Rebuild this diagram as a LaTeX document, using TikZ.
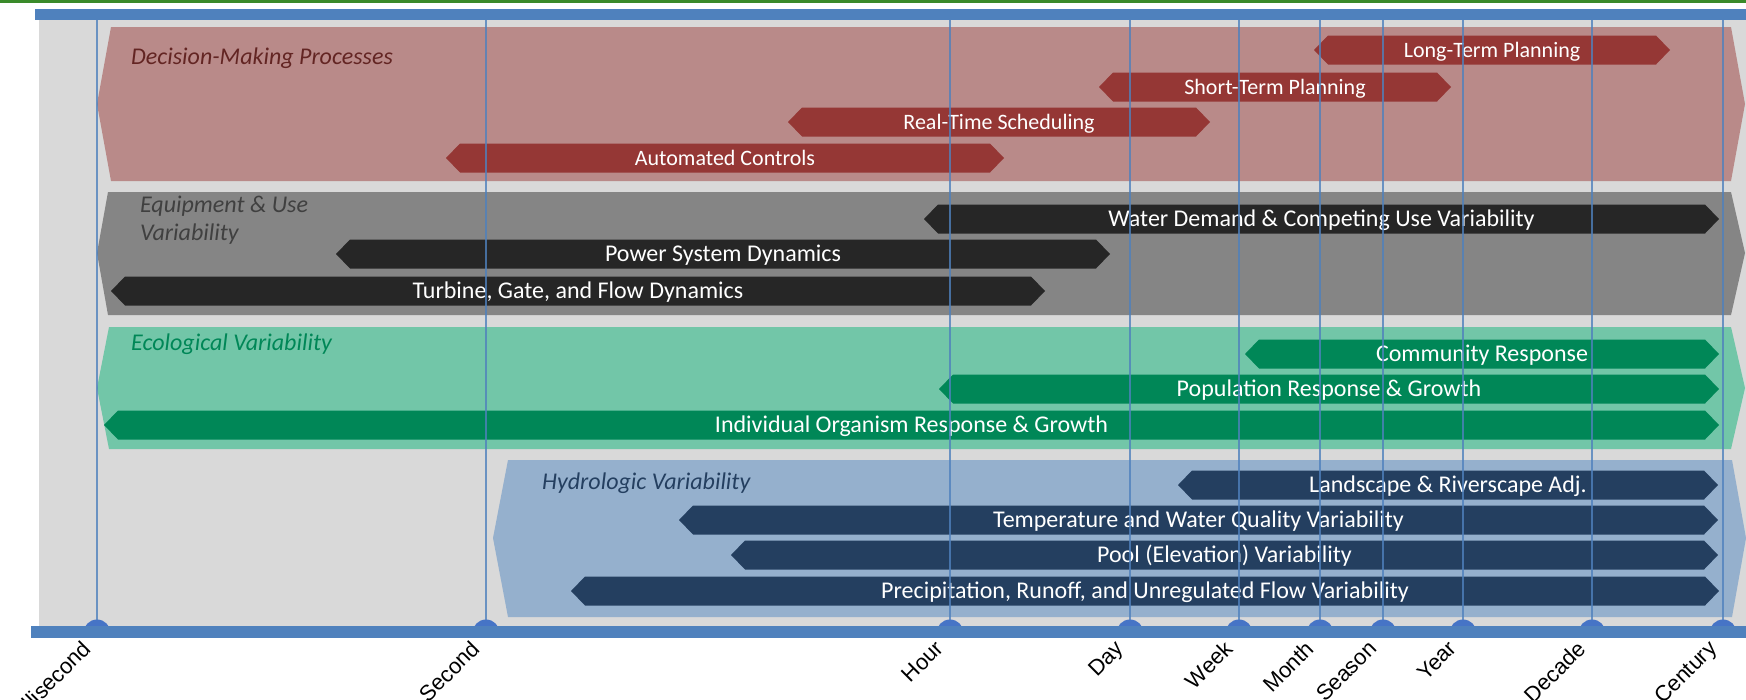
\documentclass[tikz,border=0pt]{standalone}
\usepackage{fontspec}
\setmainfont{Carlito}
\newfontfamily\axisfont{Liberation Sans}

\definecolor{rulegreen}{HTML}{3A8A2A}
\definecolor{panelgray}{HTML}{D9D9D9}
\definecolor{axisblue}{HTML}{4F81BD}
\definecolor{dotblue}{HTML}{4674C6}
\definecolor{decband}{HTML}{B98A89}
\definecolor{decbar}{HTML}{953735}
\definecolor{declabel}{HTML}{632523}
\definecolor{eqband}{HTML}{858585}
\definecolor{eqbar}{HTML}{262626}
\definecolor{eqlabel}{HTML}{404040}
\definecolor{ecoband}{HTML}{72C6A8}
\definecolor{ecobar}{HTML}{008757}
\definecolor{hydband}{HTML}{95B0CD}
\definecolor{hydbar}{HTML}{243F60}

% a double-pointed bar spanning #2..#3 at height #4, filled with #5,
% labelled #7 at font size #6
\newcommand\spanarrow[7]{%
  \fill[#5] (#2,#4) -- (#2+14,#4-14.5) -- (#3-14,#4-14.5) -- (#3,#4)
     -- (#3-14,#4+14.5) -- (#2+14,#4+14.5) -- cycle;
  \node[bartext, font=\fontsize{#6}{#6}\selectfont] (#1) at ({(#2+#3)/2},#4+7.5) {#7};
}

\begin{document}
\begin{tikzpicture}[x=1pt,y=-1pt,
  bartext/.style={text=white, inner sep=0pt, anchor=base},
  grouplabel/.style={font=\fontsize{24}{29}\selectfont\itshape, inner sep=0pt, anchor=base west},
  axislabel/.style={font=\axisfont\fontsize{22}{25}\selectfont, rotate=45, anchor=north east, inner sep=0pt},
  tickline/.style={draw=axisblue, line width=1.6pt, opacity=0.8},
  tickdot/.style={fill=dotblue}]

\useasboundingbox (0,0) rectangle (1746,699);

% frame: rule, panel, top axis bar
\fill[rulegreen] (0,0) rectangle (1746,2.5);
\fill[panelgray] (39,20) rectangle (1746,626);
\fill[axisblue] (35,9) rectangle (1746,20);

% group bands
\fill[decband] (97,104) -- (111,27) -- (1731,27) -- (1745,104) -- (1731,181) -- (111,181) -- cycle;
\fill[eqband]  (97,253) -- (108,192) -- (1731,192) -- (1745,253) -- (1731,315) -- (108,315) -- cycle;
\fill[ecoband] (97,388) -- (109,327) -- (1731,327) -- (1745,388) -- (1731,449) -- (109,449) -- cycle;
\fill[hydband] (493,538) -- (508,460) -- (1732,460) -- (1746,538) -- (1732,617) -- (508,617) -- cycle;

% group titles
\node[grouplabel, text=declabel] (dec-title) at (131,64) {Decision-Making Processes};
\node[grouplabel, text=eqlabel] (eq-title-a) at (140,212) {Equipment \& Use};
\node[grouplabel, text=eqlabel] (eq-title-b) at (140,240) {Variability};
\node[grouplabel, text=ecobar] (eco-title) at (131,350) {Ecological Variability};
\node[grouplabel, text=hydbar] (hyd-title) at (542,489) {Hydrologic Variability};

% decision-making processes
\spanarrow{longterm}{1314}{1670}{50}{decbar}{22}{Long-Term Planning}
\spanarrow{shortterm}{1099}{1451}{87}{decbar}{22}{Short-Term Planning}
\spanarrow{realtime}{788}{1210}{122}{decbar}{22}{Real-Time Scheduling}
\spanarrow{automated}{446}{1004}{158}{decbar}{22}{Automated Controls}

% equipment & use variability
\spanarrow{demand}{924}{1719}{219}{eqbar}{24}{Water Demand \& Competing Use Variability}
\spanarrow{power}{336}{1110}{254}{eqbar}{24}{Power System Dynamics}
\spanarrow{turbine}{111}{1045}{291}{eqbar}{24}{Turbine, Gate, and Flow Dynamics}

% ecological variability
\spanarrow{community}{1245}{1719}{354}{ecobar}{24}{Community Response}
\spanarrow{population}{939}{1719}{389}{ecobar}{24}{Population Response \& Growth}
\spanarrow{individual}{104}{1719}{425}{ecobar}{24}{Individual Organism Response \& Growth}

% hydrologic variability
\spanarrow{landscape}{1178}{1718}{485}{hydbar}{24}{Landscape \& Riverscape Adj.}
\spanarrow{temperature}{679}{1718}{520}{hydbar}{24}{Temperature and Water Quality Variability}
\spanarrow{pool}{731}{1718}{555}{hydbar}{24}{Pool (Elevation) Variability}
\spanarrow{precip}{571}{1719}{591}{hydbar}{24}{Precipitation, Runoff, and Unregulated Flow Variability}

% time-scale ticks
\foreach \n/\x/\lab in {ms/97/Millisecond, sec/486/Second, hour/950/Hour, day/1130/Day,
    week/1239/Week, month/1320/Month, season/1383/Season, year/1463/Year,
    decade/1592/Decade, century/1723/Century} {
  \coordinate (top-\n) at (\x,20);
  \coordinate (bot-\n) at (\x,626);
  \draw[tickline] (top-\n) -- (bot-\n);
  \begin{scope}
    \clip (0,600) rectangle (1746,626);
    \fill[tickdot] (\x,633) circle (13.5);
  \end{scope}
  \node[axislabel] (lab-\n) at (\x-16,639) {\lab};
}

% bottom axis bar
\fill[axisblue] (31,626) rectangle (1746,638);

\end{tikzpicture}
\end{document}
